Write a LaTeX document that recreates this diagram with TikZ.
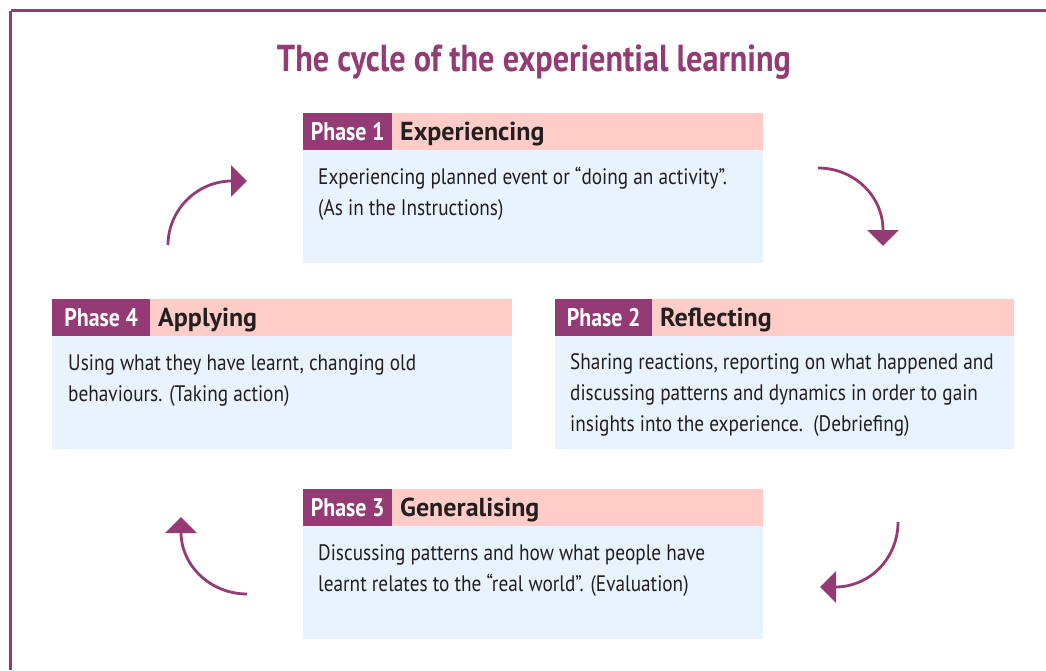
\documentclass[tikz,border=0pt]{standalone}
\usepackage{fontspec}
\setmainfont{PT Sans}[FakeStretch=0.86]
\newfontfamily\headfont{PT Sans}
\usetikzlibrary{arrows.meta}
\definecolor{plum}{HTML}{943A74}
\definecolor{headpink}{HTML}{FFCCC8}
\definecolor{bodyblue}{HTML}{E8F3FD}
\definecolor{ink}{HTML}{231F20}
\tikzset{
  labelbox/.style={fill=plum, text=white, font=\bfseries\fontsize{25.5}{28}\selectfont, minimum height=37pt, inner sep=0pt, anchor=north west},
  titlebox/.style={fill=headpink, minimum height=37pt, inner sep=0pt, anchor=north west},
  titletext/.style={text=ink, font=\headfont\bfseries\fontsize{26}{28}\selectfont, inner sep=0pt, anchor=base west},
  bodybox/.style={fill=bodyblue, minimum height=113pt, inner sep=0pt, anchor=north west},
  bodytext/.style={text=ink, font=\fontsize{22.4}{30.6}\selectfont, align=left, inner sep=0pt, anchor=base west},
  cyc/.style={draw=plum, line width=2.8pt, -{Triangle[length=16pt,width=31pt]}},
  frame/.style={draw=plum, line width=2.7pt}
}
\begin{document}
\begin{tikzpicture}[x=1pt,y=-1pt]
\useasboundingbox (0,0) rectangle (1046,670);
\draw[frame] (10.5,10.5) -- (1046,10.5);
\draw[frame] (10.5,10.5) -- (10.5,670);
\node[text=plum, font=\bfseries\fontsize{37.5}{40}\selectfont, anchor=base] (title) at (534,71) {The cycle of the experiential learning};

% Phase 1
\node[bodybox, minimum width=460pt] (b1) at (303,150) {};
\node[titlebox, minimum width=371pt] (h1) at (392,113) {};
\node[labelbox, minimum width=89pt] (l1) at (303,113) {Phase 1};
\node[titletext] (t1) at (400,140) {Experiencing};
\node[bodytext] (x1) at (318,215) {Experiencing planned event or “doing an activity”.\\ (As in the Instructions)};

% Phase 4
\node[bodybox, minimum width=460pt] (b4) at (52,336) {};
\node[titlebox, minimum width=362pt] (h4) at (150,299) {};
\node[labelbox, minimum width=98pt] (l4) at (52,299) {Phase 4};
\node[titletext] (t4) at (158,326) {Applying};
\node[bodytext] (x4) at (68,401) {Using what they have learnt, changing old\\behaviours. (Taking action)};

% Phase 2
\node[bodybox, minimum width=459pt] (b2) at (555,336) {};
\node[titlebox, minimum width=362pt] (h2) at (652,299) {};
\node[labelbox, minimum width=97pt] (l2) at (555,299) {Phase 2};
\node[titletext] (t2) at (660,326) {Reflecting};
\node[bodytext] (x2) at (570,431) {Sharing reactions, reporting on what happened and\\discussing patterns and dynamics in order to gain\\insights into the experience.~~(Debriefing)};

% Phase 3
\node[bodybox, minimum width=460pt] (b3) at (303,526) {};
\node[titlebox, minimum width=371pt] (h3) at (392,489) {};
\node[labelbox, minimum width=89pt] (l3) at (303,489) {Phase 3};
\node[titletext] (t3) at (400,516) {Generalising};
\node[bodytext] (x3) at (318,591) {Discussing patterns and how what people have\\learnt relates to the “real world”. (Evaluation)};

% cycle arrows
\coordinate (a1s) at (168,245); \coordinate (a1e) at (232,181); \coordinate (a1t) at (247,181);
\coordinate (a2s) at (818,168); \coordinate (a2e) at (883,230); \coordinate (a2t) at (883,246);
\coordinate (a3s) at (898,522); \coordinate (a3e) at (835,587); \coordinate (a3t) at (820,587);
\coordinate (a4s) at (247,594); \coordinate (a4e) at (181,532); \coordinate (a4t) at (181,517);
\draw[cyc] (a1s) .. controls (168,210) and (197,181) .. (a1e) -- (a1t);
\draw[cyc] (a2s) .. controls (854,168) and (883,196) .. (a2e) -- (a2t);
\draw[cyc] (a3s) .. controls (898,558) and (870,587) .. (a3e) -- (a3t);
\draw[cyc] (a4s) .. controls (211,594) and (181,566) .. (a4e) -- (a4t);
\end{tikzpicture}
\end{document}
